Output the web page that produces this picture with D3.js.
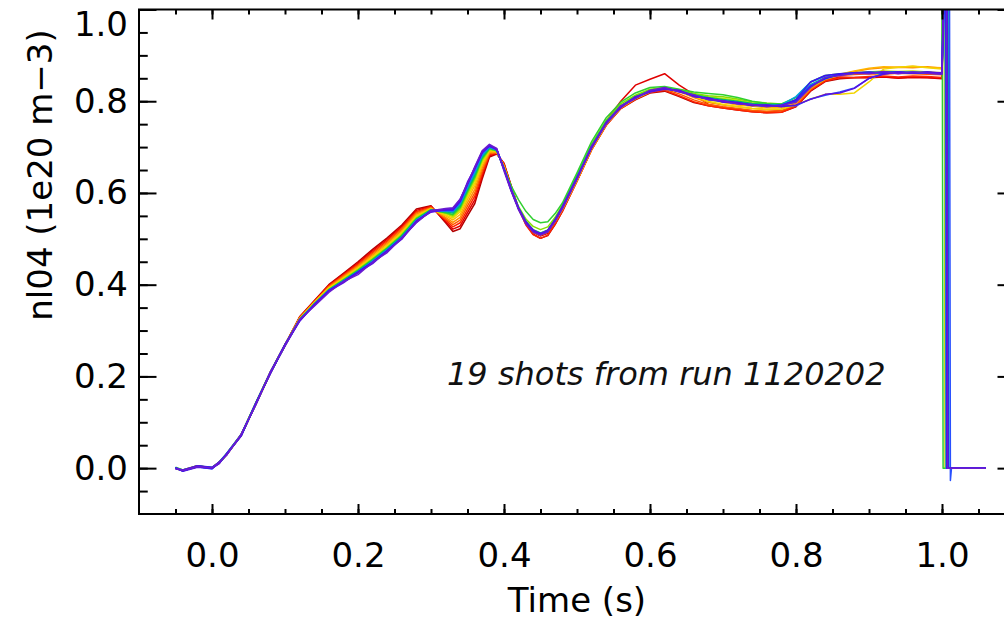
<!DOCTYPE html>
<html><head><meta charset="utf-8">
<script src="https://cdn.jsdelivr.net/npm/d3@7"></script>
<style>
html,body{margin:0;padding:0;background:#fff;overflow:hidden;}
svg{display:block;}
.lbl{font-family:"DejaVu Sans",sans-serif;font-size:34px;fill:#000;}
</style></head><body>
<svg id="chart" width="1004" height="623"></svg>
<script>
// ---------------- data ----------------
const time = [-0.05,-0.04,-0.02,0.00,0.01,0.02,0.04,0.06,0.08,0.10,
  0.12,0.14,0.16,0.18,0.20,0.22,0.24,0.26,0.28,0.30,
  0.32,0.33,0.34,0.35,0.36,0.37,0.38,0.39,0.40,0.41,
  0.42,0.43,0.44,0.45,0.46,0.47,0.48,0.50,0.52,0.54,
  0.56,0.58,0.60,0.62,0.64,0.66,0.68,0.70,0.72,0.74,
  0.76,0.78,0.80,0.82,0.84,0.86,0.88,0.90,0.92,0.94,
  0.96,0.98,1.00];

const shot01 = [0.000,-0.005,0.004,0.000,0.011,0.030,0.072,0.141,0.209,0.268,
  0.330,0.365,0.400,0.425,0.450,0.477,0.502,0.530,0.565,0.572,
  0.535,0.516,0.522,0.550,0.577,0.630,0.678,0.685,0.665,0.615,
  0.566,0.532,0.510,0.501,0.507,0.531,0.560,0.626,0.695,0.748,
  0.784,0.803,0.818,0.822,0.810,0.797,0.790,0.785,0.781,0.777,
  0.775,0.776,0.788,0.822,0.843,0.849,0.851,0.852,0.853,0.851,
  0.853,0.852,0.850];
const shot02 = [0.001,-0.004,0.005,0.001,0.013,0.031,0.073,0.142,0.210,0.270,
  0.329,0.364,0.399,0.423,0.447,0.474,0.499,0.527,0.562,0.571,
  0.538,0.521,0.528,0.557,0.585,0.636,0.681,0.686,0.664,0.614,
  0.566,0.533,0.514,0.506,0.512,0.536,0.563,0.627,0.696,0.757,
  0.800,0.835,0.848,0.860,0.835,0.815,0.793,0.787,0.783,0.779,
  0.777,0.779,0.790,0.823,0.845,0.853,0.852,0.851,0.853,0.850,
  0.852,0.851,0.849];
const shot03 = [0.000,-0.006,0.003,0.000,0.012,0.029,0.071,0.140,0.208,0.267,
  0.328,0.363,0.397,0.421,0.445,0.471,0.496,0.524,0.559,0.570,
  0.541,0.526,0.535,0.564,0.593,0.642,0.683,0.687,0.662,0.613,
  0.565,0.530,0.509,0.501,0.508,0.532,0.560,0.625,0.694,0.747,
  0.784,0.804,0.819,0.824,0.812,0.799,0.790,0.785,0.781,0.777,
  0.775,0.776,0.789,0.824,0.844,0.851,0.852,0.854,0.855,0.853,
  0.855,0.854,0.852];
const shot04 = [-0.001,-0.005,0.004,0.001,0.011,0.031,0.072,0.139,0.207,0.268,
  0.328,0.362,0.396,0.419,0.442,0.468,0.493,0.521,0.557,0.568,
  0.544,0.531,0.541,0.572,0.600,0.648,0.686,0.688,0.660,0.612,
  0.566,0.535,0.517,0.509,0.515,0.537,0.564,0.626,0.694,0.748,
  0.785,0.805,0.820,0.826,0.816,0.803,0.793,0.788,0.784,0.780,
  0.778,0.779,0.792,0.826,0.847,0.856,0.858,0.860,0.859,0.861,
  0.860,0.859,0.858];
const shot05 = [0.001,-0.006,0.004,0.000,0.012,0.030,0.073,0.141,0.209,0.269,
  0.327,0.361,0.394,0.417,0.440,0.465,0.490,0.518,0.554,0.567,
  0.547,0.536,0.547,0.579,0.608,0.654,0.688,0.689,0.659,0.611,
  0.566,0.534,0.515,0.508,0.515,0.538,0.564,0.627,0.695,0.749,
  0.786,0.806,0.821,0.828,0.821,0.808,0.797,0.792,0.788,0.784,
  0.782,0.783,0.796,0.828,0.848,0.858,0.865,0.870,0.873,0.874,
  0.873,0.875,0.872];
const shot06 = [0.000,-0.005,0.003,0.001,0.013,0.031,0.071,0.140,0.208,0.268,
  0.326,0.360,0.393,0.415,0.438,0.462,0.487,0.515,0.551,0.566,
  0.550,0.541,0.553,0.586,0.616,0.660,0.690,0.690,0.657,0.610,
  0.566,0.535,0.516,0.509,0.517,0.538,0.565,0.628,0.697,0.750,
  0.787,0.807,0.822,0.829,0.823,0.811,0.803,0.797,0.792,0.789,
  0.786,0.787,0.798,0.829,0.849,0.859,0.866,0.872,0.875,0.874,
  0.876,0.874,0.873];
const shot07 = [-0.001,-0.006,0.005,0.000,0.011,0.029,0.072,0.140,0.209,0.269,
  0.325,0.361,0.392,0.414,0.435,0.460,0.485,0.513,0.549,0.565,
  0.552,0.545,0.559,0.592,0.622,0.665,0.693,0.691,0.656,0.609,
  0.567,0.537,0.519,0.511,0.518,0.541,0.567,0.631,0.699,0.751,
  0.787,0.806,0.821,0.827,0.821,0.810,0.800,0.793,0.788,0.784,
  0.782,0.783,0.792,0.805,0.815,0.815,0.818,0.842,0.870,0.874,
  0.876,0.873,0.870];
const shot08 = [0.001,-0.005,0.004,0.001,0.012,0.031,0.073,0.141,0.208,0.268,
  0.325,0.359,0.390,0.412,0.434,0.457,0.482,0.510,0.547,0.564,
  0.555,0.548,0.563,0.597,0.628,0.669,0.694,0.692,0.655,0.609,
  0.566,0.536,0.518,0.512,0.519,0.541,0.568,0.632,0.700,0.752,
  0.790,0.810,0.824,0.830,0.824,0.815,0.810,0.806,0.802,0.796,
  0.794,0.793,0.801,0.831,0.849,0.857,0.862,0.864,0.866,0.865,
  0.866,0.864,0.862];
const shot09 = [0.000,-0.006,0.003,0.000,0.013,0.030,0.072,0.139,0.207,0.267,
  0.324,0.358,0.390,0.411,0.433,0.456,0.481,0.509,0.545,0.564,
  0.556,0.551,0.566,0.600,0.632,0.672,0.695,0.692,0.655,0.608,
  0.570,0.543,0.527,0.520,0.526,0.547,0.574,0.640,0.707,0.758,
  0.794,0.813,0.826,0.830,0.825,0.817,0.812,0.810,0.805,0.799,
  0.796,0.794,0.802,0.833,0.850,0.858,0.862,0.863,0.864,0.862,
  0.863,0.862,0.861];
const shot10 = [0.002,-0.004,0.005,0.001,0.014,0.032,0.074,0.143,0.210,0.270,
  0.324,0.358,0.389,0.410,0.431,0.455,0.480,0.507,0.544,0.563,
  0.557,0.553,0.569,0.604,0.635,0.675,0.697,0.692,0.654,0.615,
  0.585,0.560,0.542,0.535,0.537,0.555,0.578,0.644,0.712,0.764,
  0.798,0.818,0.830,0.832,0.826,0.820,0.817,0.814,0.808,0.800,
  0.795,0.794,0.808,0.842,0.856,0.860,0.861,0.863,0.862,0.864,
  0.861,0.863,0.860];
const shot11 = [0.000,-0.005,0.004,0.000,0.012,0.030,0.071,0.140,0.209,0.268,
  0.324,0.357,0.388,0.409,0.430,0.453,0.478,0.506,0.542,0.563,
  0.559,0.556,0.572,0.608,0.639,0.678,0.698,0.694,0.653,0.608,
  0.568,0.538,0.520,0.513,0.519,0.543,0.571,0.636,0.703,0.755,
  0.790,0.810,0.823,0.828,0.823,0.814,0.808,0.804,0.800,0.795,
  0.793,0.792,0.803,0.836,0.852,0.859,0.861,0.862,0.862,0.863,
  0.862,0.861,0.862];
const shot12 = [0.001,-0.006,0.004,0.001,0.011,0.029,0.073,0.141,0.207,0.268,
  0.323,0.357,0.388,0.409,0.429,0.452,0.477,0.504,0.541,0.562,
  0.560,0.558,0.575,0.610,0.643,0.680,0.699,0.693,0.653,0.607,
  0.566,0.536,0.517,0.511,0.518,0.540,0.568,0.634,0.701,0.752,
  0.789,0.809,0.822,0.829,0.823,0.813,0.806,0.801,0.797,0.793,
  0.791,0.791,0.801,0.833,0.851,0.858,0.862,0.862,0.863,0.861,
  0.863,0.862,0.861];
const shot13 = [0.000,-0.004,0.003,0.000,0.012,0.031,0.072,0.140,0.209,0.267,
  0.323,0.357,0.387,0.408,0.428,0.451,0.476,0.503,0.540,0.562,
  0.561,0.560,0.577,0.613,0.646,0.683,0.700,0.694,0.652,0.606,
  0.565,0.535,0.518,0.511,0.518,0.541,0.569,0.633,0.700,0.753,
  0.789,0.808,0.822,0.828,0.822,0.812,0.805,0.800,0.796,0.792,
  0.791,0.792,0.810,0.842,0.855,0.859,0.861,0.863,0.862,0.863,
  0.861,0.862,0.861];
const shot14 = [-0.001,-0.006,0.004,0.001,0.013,0.030,0.071,0.141,0.208,0.269,
  0.322,0.356,0.387,0.407,0.427,0.451,0.474,0.502,0.540,0.561,
  0.561,0.561,0.579,0.615,0.648,0.685,0.701,0.694,0.651,0.607,
  0.566,0.536,0.517,0.511,0.517,0.541,0.569,0.633,0.701,0.752,
  0.788,0.807,0.821,0.828,0.823,0.812,0.804,0.799,0.795,0.791,
  0.790,0.789,0.802,0.835,0.851,0.857,0.861,0.862,0.862,0.864,
  0.862,0.861,0.862];
const shot15 = [0.001,-0.005,0.003,-0.002,0.012,0.032,0.073,0.139,0.209,0.268,
  0.323,0.357,0.387,0.406,0.428,0.450,0.475,0.503,0.538,0.560,
  0.562,0.562,0.580,0.618,0.652,0.687,0.702,0.695,0.652,0.606,
  0.565,0.536,0.518,0.510,0.518,0.540,0.568,0.631,0.700,0.753,
  0.789,0.808,0.822,0.827,0.822,0.811,0.806,0.800,0.796,0.793,
  0.789,0.790,0.790,0.805,0.813,0.820,0.829,0.850,0.860,0.862,
  0.864,0.861,0.860];
const shot16 = [0.000,-0.006,0.005,0.002,0.011,0.031,0.071,0.142,0.207,0.267,
  0.321,0.356,0.386,0.407,0.428,0.449,0.474,0.502,0.538,0.561,
  0.563,0.563,0.582,0.619,0.654,0.688,0.704,0.696,0.652,0.606,
  0.566,0.537,0.518,0.511,0.516,0.541,0.567,0.633,0.699,0.751,
  0.787,0.809,0.821,0.829,0.821,0.813,0.804,0.801,0.797,0.792,
  0.789,0.792,0.801,0.833,0.849,0.859,0.861,0.861,0.864,0.863,
  0.861,0.863,0.860];
const shot17 = [0.001,-0.007,0.002,-0.001,0.014,0.029,0.073,0.139,0.209,0.270,
  0.323,0.354,0.387,0.406,0.426,0.448,0.473,0.501,0.536,0.562,
  0.564,0.566,0.586,0.621,0.656,0.689,0.702,0.696,0.651,0.604,
  0.566,0.534,0.516,0.509,0.518,0.539,0.569,0.631,0.701,0.753,
  0.789,0.807,0.823,0.827,0.823,0.811,0.806,0.799,0.795,0.791,
  0.791,0.789,0.804,0.842,0.856,0.860,0.862,0.864,0.861,0.863,
  0.862,0.864,0.861];
const shot18 = [-0.002,-0.004,0.005,0.000,0.010,0.031,0.070,0.141,0.206,0.269,
  0.320,0.356,0.386,0.404,0.427,0.446,0.474,0.499,0.539,0.558,
  0.564,0.565,0.583,0.624,0.653,0.688,0.704,0.694,0.652,0.607,
  0.567,0.536,0.519,0.511,0.519,0.542,0.570,0.634,0.698,0.754,
  0.786,0.810,0.820,0.826,0.824,0.810,0.807,0.798,0.797,0.790,
  0.792,0.788,0.792,0.804,0.815,0.818,0.828,0.850,0.859,0.864,
  0.861,0.863,0.862];
const shot19 = [0.000,-0.005,0.003,0.001,0.013,0.028,0.074,0.138,0.210,0.266,
  0.324,0.353,0.383,0.407,0.422,0.449,0.470,0.502,0.535,0.561,
  0.566,0.568,0.587,0.620,0.657,0.692,0.706,0.697,0.648,0.603,
  0.563,0.533,0.515,0.508,0.515,0.538,0.566,0.630,0.702,0.750,
  0.790,0.806,0.824,0.830,0.820,0.814,0.803,0.801,0.794,0.793,
  0.788,0.791,0.798,0.830,0.852,0.856,0.861,0.860,0.865,0.860,
  0.864,0.861,0.859];

// end of each shot: density spikes off scale, then drops to zero
const dropTime  = [1.004,1.006,1.005,1.007,1.003,1.005,1.004,1.003,1.006,1.000,
  1.005,1.008,1.004,1.006,1.010,1.007,1.005,1.006,1.006];
const dropValue = [0,0,0,0,0,0,0,0,0,0,0,0,0,0,-0.027,0,0,0,0];
const spikeValue = 1.3;
const tailTime = 1.06;

const xTickValues = [0.0,0.2,0.4,0.6,0.8,1.0];
const xTickLabels = ["0.0","0.2","0.4","0.6","0.8","1.0"];
const yTickValues = [0.0,0.2,0.4,0.6,0.8,1.0];
const yTickLabels = ["0.0","0.2","0.4","0.6","0.8","1.0"];
const annotation = "19 shots from run 1120202";
const xTitle = "Time (s)";
const yTitle = "nl04 (1e20 m\u22123)";

const shots = [shot01,shot02,shot03,shot04,shot05,shot06,shot07,shot08,shot09,shot10,
  shot11,shot12,shot13,shot14,shot15,shot16,shot17,shot18,shot19];

// ---------------- styles ----------------
const palette = ["#b40000","#e00000","#ff2400","#ff5a00","#ff8c00","#ffb400","#f2d400",
  "#c8e400","#84e000","#30d030","#00c060","#00b0a0","#00a0e0","#1e78ff","#2850ff",
  "#2020ff","#4010f0","#5a10e0","#6a1cd0"];

// ---------------- layout ----------------
const svg = d3.select("#chart");
const L = 139, R = 1015, T = 9.5, B = 514;
const x = d3.scaleLinear().domain([-0.1, 1.1]).range([L, R]);
const y = d3.scaleLinear().domain([-0.1, 1.0]).range([B, T]);

svg.append("defs").append("clipPath").attr("id","clip")
  .append("rect").attr("x",L).attr("y",T).attr("width",R-L).attr("height",B-T);

// traces
const line = d3.line().x(d => x(d[0])).y(d => y(d[1]));
const g = svg.append("g").attr("clip-path","url(#clip)");
shots.forEach((vals, k) => {
  const pts = time.map((t, i) => [t, vals[i]]);
  pts.push([dropTime[k], spikeValue]);
  pts.push([dropTime[k] + 0.0015, dropValue[k]]);
  pts.push([dropTime[k] + 0.003, 0]);
  pts.push([tailTime, 0]);
  g.append("path").datum(pts).attr("d", line)
    .attr("fill","none").attr("stroke", palette[k]).attr("stroke-width",1.5)
    .attr("stroke-linejoin","round");
});

// axes (IDL style, ticks pointing inward on all four sides)
const minorX = d3.range(-0.05, 1.1, 0.05);
const minorY = d3.range(-0.05, 1.0001, 0.05);
function styleAxis(sel){
  sel.select(".domain").remove();
  sel.selectAll("line").attr("stroke","#000").attr("stroke-width",2);
  sel.selectAll("text").attr("class","lbl").attr("fill","#000")
     .style("font-family","'DejaVu Sans',sans-serif").style("font-size","34px");
}
const fmtX = (d) => xTickLabels[xTickValues.findIndex(v => Math.abs(v-d)<1e-9)];
const fmtY = (d) => yTickLabels[yTickValues.findIndex(v => Math.abs(v-d)<1e-9)];

svg.append("g").attr("transform",`translate(0,${B})`)
  .call(d3.axisBottom(x).tickValues(xTickValues).tickFormat(fmtX).tickSize(-10).tickSizeOuter(0).tickPadding(29))
  .call(styleAxis);
svg.append("g").attr("transform",`translate(0,${B})`)
  .call(d3.axisBottom(x).tickValues(minorX).tickFormat("").tickSize(-5).tickSizeOuter(0))
  .call(styleAxis);
svg.append("g").attr("transform",`translate(0,${T})`)
  .call(d3.axisTop(x).tickValues(xTickValues).tickFormat("").tickSize(-10).tickSizeOuter(0))
  .call(styleAxis);
svg.append("g").attr("transform",`translate(0,${T})`)
  .call(d3.axisTop(x).tickValues(minorX).tickFormat("").tickSize(-5).tickSizeOuter(0))
  .call(styleAxis);

const yAx = svg.append("g").attr("transform",`translate(${L},0)`)
  .call(d3.axisLeft(y).tickValues(yTickValues).tickFormat(fmtY).tickSize(-17.5).tickSizeOuter(0).tickPadding(11))
  .call(styleAxis);
// the top label sits a little below its tick so that it stays inside the picture
yAx.selectAll(".tick").filter(d => d === 1.0).select("text").attr("dy","0.75em");
svg.append("g").attr("transform",`translate(${L},0)`)
  .call(d3.axisLeft(y).tickValues(minorY).tickFormat("").tickSize(-8.75).tickSizeOuter(0))
  .call(styleAxis);
svg.append("g").attr("transform",`translate(${R},0)`)
  .call(d3.axisRight(y).tickValues(yTickValues).tickFormat("").tickSize(-17.5).tickSizeOuter(0))
  .call(styleAxis);
svg.append("g").attr("transform",`translate(${R},0)`)
  .call(d3.axisRight(y).tickValues(minorY).tickFormat("").tickSize(-8.75).tickSizeOuter(0))
  .call(styleAxis);

// frame
svg.append("rect").attr("x",L).attr("y",T).attr("width",R-L).attr("height",B-T)
  .attr("fill","none").attr("stroke","#000").attr("stroke-width",2);

// titles
svg.append("text").attr("class","lbl").attr("x",(L+R)/2).attr("y",612)
  .attr("text-anchor","middle").text(xTitle);
svg.append("text").attr("class","lbl")
  .attr("transform","translate(52,175) rotate(-90)")
  .attr("text-anchor","middle").text(yTitle);

// annotation
svg.append("text").attr("x",447).attr("y",385)
  .style("font-family","'DejaVu Sans',sans-serif").style("font-style","italic")
  .style("font-size","32px").attr("fill","#111").text(annotation);
</script>
</body></html>
